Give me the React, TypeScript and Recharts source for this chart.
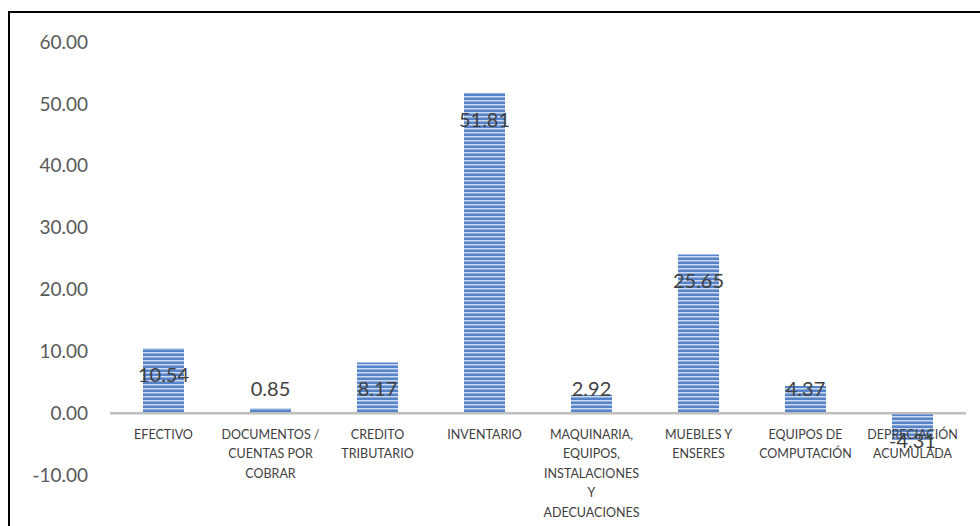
import React from 'react';
import { BarChart, Bar, XAxis, YAxis, ReferenceLine, LabelList } from 'recharts';

const categories = [
  'EFECTIVO',
  'DOCUMENTOS /\nCUENTAS POR\nCOBRAR',
  'CREDITO\nTRIBUTARIO',
  'INVENTARIO',
  'MAQUINARIA,\nEQUIPOS,\nINSTALACIONES\nY\nADECUACIONES',
  'MUEBLES Y\nENSERES',
  'EQUIPOS DE\nCOMPUTACIÓN',
  'DEPRECIACIÓN\nACUMULADA',
];
const values = [10.54, 0.85, 8.17, 51.81, 2.92, 25.65, 4.37, -4.31];
const yTicks = [-10, 0, 10, 20, 30, 40, 50, 60];

const W = 980;
const H = 526;
const M = { top: 42, right: 14, left: 10, bottom: 0 };
const X_AXIS_H = 51;
const Y_MIN = -10;
const Y_MAX = 60;
const PLOT_H = H - M.top - M.bottom - X_AXIS_H;
// distance from plot bottom up to the zero line
const ZERO_SHIFT = (PLOT_H * (0 - Y_MIN)) / (Y_MAX - Y_MIN);

const FONT = 'Lato, "Open Sans", sans-serif';

const data = categories.map((name, i) => ({ name, value: values[i] }));

function CategoryTick(props: any) {
  const { x, payload } = props;
  const plotBottom = M.top + PLOT_H;
  const zeroY = plotBottom - ZERO_SHIFT;
  const lines = String(payload.value).split('\n');
  return (
    <text
      x={x}
      y={zeroY + 21}
      textAnchor="middle"
      fontFamily={FONT}
      fontSize={12.5}
      fill="#404040"
    >
      {lines.map((l, i) => (
        <tspan key={i} x={x} dy={i === 0 ? '0.35em' : 19.5}>
          {l}
        </tspan>
      ))}
    </text>
  );
}

function ValueLabel(props: any) {
  const { x, y, width, height, value } = props;
  const top = Math.min(y, y + height);
  const bottom = Math.max(y, y + height);
  let cy: number;
  if (value >= 0) {
    // inside end, but never below the axis
    cy = Math.min(top + 26, bottom - 25);
  } else {
    cy = Math.max(bottom - 26, top + 27);
  }
  return (
    <text
      x={x + width / 2}
      y={cy}
      textAnchor="middle"
      dominantBaseline="central"
      fontFamily={FONT}
      fontSize={20}
      fill="#404040"
    >
      {Number(value).toFixed(2)}
    </text>
  );
}

export default function App() {
  return (
    <div style={{ position: 'absolute', left: 0, top: 0, width: W, height: H, overflow: 'hidden', background: '#fff' }}>
      <div
        style={{
          position: 'absolute',
          left: 8,
          top: 11,
          width: W,
          height: H + 20,
          border: '2px solid #000',
          boxSizing: 'border-box',
        }}
      />
      <div style={{ position: 'absolute', left: 0, top: 0 }}>
        <BarChart width={W} height={H} data={data} margin={M}>
          <defs>
            <pattern id="hstripe" patternUnits="userSpaceOnUse" width={4} height={4}>
              <rect x={0} y={0} width={4} height={4} fill="#5583CA" />
              <rect x={0} y={0} width={4} height={1.5} fill="#CCDAF0" />
            </pattern>
          </defs>
          <XAxis
            dataKey="name"
            height={X_AXIS_H}
            axisLine={false}
            tickLine={false}
            interval={0}
            tick={<CategoryTick />}
          />
          <YAxis
            width={100}
            domain={[Y_MIN, Y_MAX]}
            ticks={yTicks}
            axisLine={false}
            tickLine={false}
            tickMargin={16}
            tickFormatter={(v: number) => v.toFixed(2)}
            tick={{ fontFamily: FONT, fontSize: 19, fill: '#595959' }}
          />
          <ReferenceLine y={0} stroke="#BFBFBF" strokeWidth={2.5} />
          <Bar dataKey="value" fill="url(#hstripe)" barSize={41} isAnimationActive={false}>
            <LabelList dataKey="value" content={<ValueLabel />} />
          </Bar>
        </BarChart>
      </div>
    </div>
  );
}
